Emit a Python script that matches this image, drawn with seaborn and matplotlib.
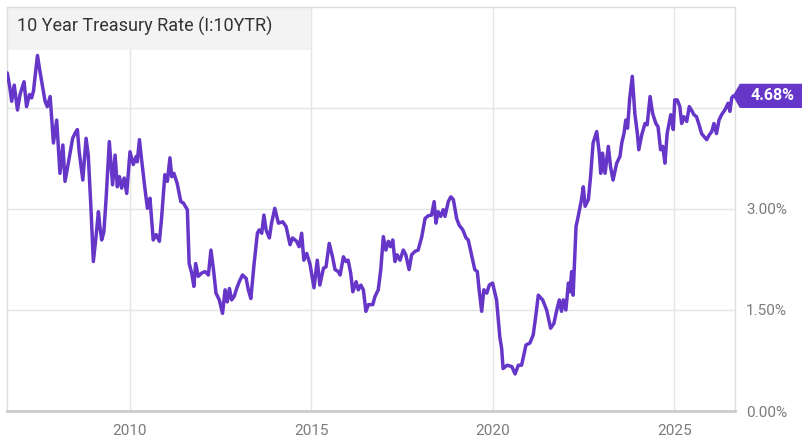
import matplotlib
matplotlib.use('Agg')
import matplotlib.pyplot as plt
import matplotlib.transforms as mtransforms
from matplotlib.patches import Polygon, Rectangle
import seaborn as sns
import pandas as pd

# 10 year treasury rate (decimal year, percent)
years = [
    2006.62, 2006.69, 2006.74, 2006.81, 2006.90, 2006.97, 2007.08, 2007.15, 2007.23, 2007.29,
    2007.34, 2007.45, 2007.52, 2007.66, 2007.72, 2007.80, 2007.89, 2007.98, 2008.07, 2008.15,
    2008.21, 2008.30, 2008.42, 2008.49, 2008.55, 2008.60, 2008.70, 2008.79, 2008.85, 2008.92,
    2008.99, 2009.06, 2009.13, 2009.17, 2009.22, 2009.28, 2009.34, 2009.43, 2009.52, 2009.59,
    2009.65, 2009.71, 2009.77, 2009.84, 2009.91, 2010.00, 2010.09, 2010.17, 2010.20, 2010.26,
    2010.32, 2010.41, 2010.48, 2010.55, 2010.64, 2010.72, 2010.81, 2010.87, 2010.96, 2011.03,
    2011.10, 2011.15, 2011.21, 2011.30, 2011.40, 2011.47, 2011.58, 2011.63, 2011.70, 2011.76,
    2011.81, 2011.88, 2011.98, 2012.07, 2012.16, 2012.23, 2012.30, 2012.37, 2012.46, 2012.55,
    2012.62, 2012.68, 2012.74, 2012.80, 2012.87, 2012.94, 2013.01, 2013.10, 2013.20, 2013.26,
    2013.33, 2013.42, 2013.51, 2013.56, 2013.63, 2013.69, 2013.75, 2013.84, 2013.90, 2013.99,
    2014.09, 2014.21, 2014.30, 2014.41, 2014.48, 2014.59, 2014.66, 2014.73, 2014.79, 2014.87,
    2014.96, 2015.07, 2015.16, 2015.23, 2015.33, 2015.40, 2015.49, 2015.58, 2015.65, 2015.74,
    2015.79, 2015.88, 2015.95, 2016.01, 2016.08, 2016.14, 2016.23, 2016.29, 2016.36, 2016.43,
    2016.50, 2016.57, 2016.69, 2016.75, 2016.84, 2016.91, 2016.98, 2017.05, 2017.12, 2017.18,
    2017.24, 2017.30, 2017.36, 2017.44, 2017.53, 2017.60, 2017.69, 2017.76, 2017.85, 2017.94,
    2018.04, 2018.13, 2018.22, 2018.31, 2018.38, 2018.43, 2018.49, 2018.56, 2018.63, 2018.68,
    2018.77, 2018.84, 2018.91, 2019.00, 2019.07, 2019.17, 2019.26, 2019.32, 2019.41, 2019.50,
    2019.57, 2019.62, 2019.69, 2019.75, 2019.83, 2019.90, 2019.99, 2020.10, 2020.19, 2020.24,
    2020.28, 2020.39, 2020.52, 2020.61, 2020.70, 2020.79, 2020.91, 2021.02, 2021.11, 2021.19,
    2021.25, 2021.37, 2021.48, 2021.59, 2021.68, 2021.76, 2021.83, 2021.89, 2021.94, 2022.01,
    2022.08, 2022.12, 2022.17, 2022.21, 2022.29, 2022.35, 2022.44, 2022.49, 2022.54, 2022.63,
    2022.69, 2022.76, 2022.86, 2022.93, 2022.97, 2023.02, 2023.09, 2023.18, 2023.24, 2023.31,
    2023.41, 2023.50, 2023.55, 2023.61, 2023.66, 2023.71, 2023.77, 2023.84, 2023.91, 2023.98,
    2024.02, 2024.10, 2024.19, 2024.25, 2024.33, 2024.40, 2024.49, 2024.55, 2024.62, 2024.68,
    2024.74, 2024.80, 2024.90, 2024.97, 2025.01, 2025.08, 2025.15, 2025.20, 2025.26, 2025.34,
    2025.41, 2025.47, 2025.54, 2025.61, 2025.68, 2025.75, 2025.81, 2025.89, 2025.96, 2026.03,
    2026.09, 2026.16, 2026.23, 2026.30, 2026.39, 2026.48, 2026.53, 2026.58, 2026.62,
]
rates = [
    5.02, 4.80, 4.60, 4.84, 4.47, 4.70, 4.89, 4.52, 4.70, 4.65,
    4.75, 5.28, 5.04, 4.60, 4.52, 4.67, 3.98, 4.32, 3.53, 3.95,
    3.41, 3.68, 4.05, 4.13, 4.18, 3.85, 3.43, 4.05, 3.80, 3.06,
    2.22, 2.57, 2.96, 2.74, 2.54, 2.66, 3.14, 4.00, 3.36, 3.80,
    3.33, 3.48, 3.31, 3.46, 3.23, 3.85, 3.66, 3.78, 3.70, 4.03,
    3.73, 3.31, 3.01, 3.16, 2.54, 2.62, 2.52, 2.86, 3.51, 3.41,
    3.76, 3.48, 3.53, 3.38, 3.11, 3.09, 2.99, 2.19, 2.05, 1.85,
    2.19, 2.00, 2.05, 2.07, 2.02, 2.39, 2.10, 1.75, 1.65, 1.45,
    1.80, 1.62, 1.82, 1.65, 1.70, 1.82, 1.92, 2.02, 1.97, 1.80,
    1.67, 2.19, 2.64, 2.69, 2.64, 2.91, 2.69, 2.57, 2.79, 3.01,
    2.79, 2.81, 2.74, 2.47, 2.57, 2.52, 2.44, 2.64, 2.24, 2.34,
    2.18, 1.83, 2.24, 1.87, 2.12, 2.14, 2.49, 2.29, 2.10, 2.07,
    2.02, 2.29, 2.22, 2.24, 2.05, 1.77, 1.92, 1.80, 1.87, 1.80,
    1.48, 1.58, 1.58, 1.70, 1.80, 2.10, 2.59, 2.39, 2.52, 2.44,
    2.54, 2.22, 2.32, 2.24, 2.39, 2.32, 2.10, 2.32, 2.37, 2.39,
    2.59, 2.86, 2.90, 2.91, 3.11, 2.79, 2.96, 2.89, 2.99, 2.89,
    3.11, 3.18, 3.14, 2.86, 2.76, 2.69, 2.57, 2.54, 2.32, 2.10,
    2.07, 1.80, 1.48, 1.80, 1.75, 1.87, 1.90, 1.65, 1.10, 0.93,
    0.63, 0.68, 0.66, 0.55, 0.68, 0.68, 0.98, 1.01, 1.13, 1.45,
    1.72, 1.65, 1.50, 1.23, 1.30, 1.50, 1.65, 1.48, 1.65, 1.50,
    1.90, 1.77, 2.07, 1.72, 2.74, 2.89, 3.14, 3.33, 3.04, 3.14,
    3.48, 3.98, 4.15, 3.83, 3.53, 3.83, 3.53, 3.93, 3.63, 3.43,
    3.68, 3.78, 3.98, 4.12, 4.32, 4.20, 4.65, 4.97, 4.42, 4.12,
    3.88, 4.10, 4.27, 4.25, 4.67, 4.42, 4.27, 4.22, 3.88, 3.93,
    3.68, 4.12, 4.40, 4.18, 4.62, 4.62, 4.52, 4.27, 4.37, 4.30,
    4.52, 4.47, 4.40, 4.37, 4.25, 4.12, 4.08, 4.03, 4.10, 4.15,
    4.27, 4.12, 4.32, 4.40, 4.47, 4.57, 4.45, 4.65, 4.68,
]
x_ticks = [2010, 2015, 2020, 2025]
y_ticks = [0.0, 1.5, 3.0, 4.5]
y_labels = ['0.00%', '1.50%', '3.00%', '']
title = '10 Year Treasury Rate (I:10YTR)'

purple = '#6636c9'

sns.set_style('white')
plt.rcParams['font.family'] = ['Roboto', 'DejaVu Sans']

df = pd.DataFrame({'year': years, 'rate': rates})

fig = plt.figure(figsize=(8.1, 4.45), dpi=100)
ax = fig.add_axes([0.0086, 0.0764, 0.8988, 0.9079])

sns.lineplot(data=df, x='year', y='rate', color=purple, linewidth=2.5, ax=ax, zorder=3)

ax.set_xlim(2006.61, 2026.67)
ax.set_ylim(0, 6.0)
ax.set_xlabel('')
ax.set_ylabel('')

ax.set_xticks(x_ticks)
ax.set_xticklabels([str(t) for t in x_ticks])
ax.set_yticks(y_ticks)
ax.set_yticklabels(y_labels)
ax.yaxis.tick_right()
ax.tick_params(axis='both', length=0, labelsize=11, labelcolor='#7b7b7b')
ax.tick_params(axis='x', pad=9)
ax.tick_params(axis='y', pad=8)

ax.grid(True, color='#e5e5e5', linewidth=1.0)
ax.set_axisbelow(True)
for side in ['left', 'top', 'right']:
    ax.spines[side].set_color('#dddddd')
    ax.spines[side].set_linewidth(1.0)
ax.spines['bottom'].set_color('#cccccc')
ax.spines['bottom'].set_linewidth(2.0)

# title box at the top left
ax.add_patch(Rectangle((0, 0.894), 0.418, 0.106, transform=ax.transAxes,
                       facecolor='#f2f2f2', edgecolor='none', alpha=0.85, zorder=2))
ax.text(0.014, 0.953, title, transform=ax.transAxes, fontsize=13,
        color='#333333', va='center', ha='left', zorder=4)

# last value tag on the right
last = rates[-1]
trans = mtransforms.blended_transform_factory(ax.transAxes, ax.transData)
h = 0.18
tag = Polygon([(0.997, last), (1.0066, last + h), (1.092, last + h),
               (1.092, last - h), (1.0066, last - h)], closed=True,
              transform=trans, facecolor=purple, edgecolor='none', clip_on=False, zorder=5)
ax.add_patch(tag)
ax.text(1.051, last, f'{last:.2f}%', transform=trans, color='white', fontsize=11.5,
        fontweight='bold', ha='center', va='center', zorder=6, clip_on=False)

fig.savefig('out.png', dpi=100)
